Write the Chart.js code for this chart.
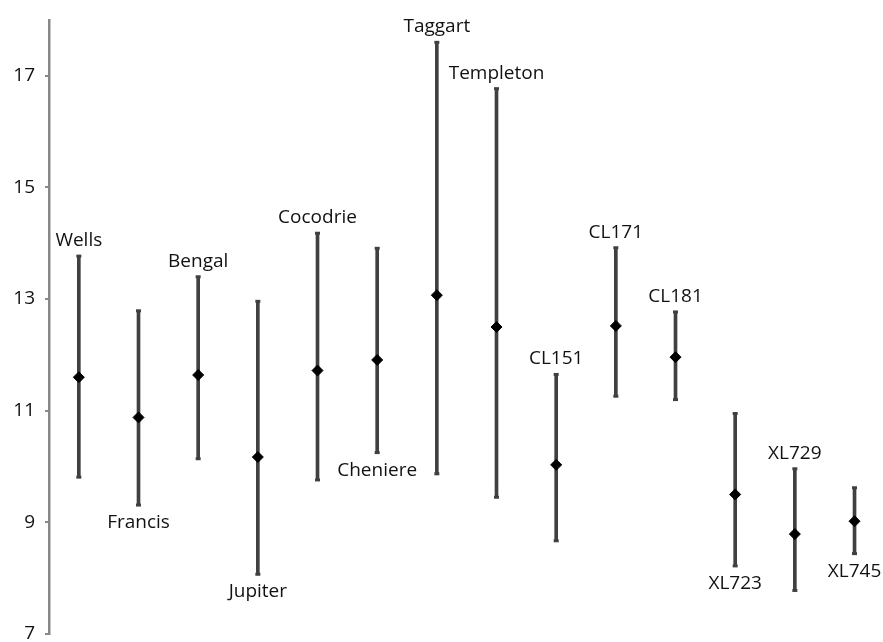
<!DOCTYPE html>
<html>
<head>
<meta charset="utf-8">
<title>Variety means with ranges</title>
<script src="https://cdn.jsdelivr.net/npm/chart.js"></script>
<style>
  html, body { margin: 0; padding: 0; background: #fff; }
  #wrap { width: 883px; height: 642px; }
</style>
</head>
<body>
<div id="wrap"><canvas id="chart" width="883" height="642"></canvas></div>
<script>
// Chart data
const categories = ['Wells', 'Francis', 'Bengal', 'Jupiter', 'Cocodrie', 'Cheniere', 'Taggart',
                    'Templeton', 'CL151', 'CL171', 'CL181', 'XL723', 'XL729', 'XL745'];
const means = [11.60, 10.88, 11.64, 10.17, 11.72, 11.91, 13.07, 12.50, 10.03, 12.52, 11.96, 9.50, 8.79, 9.02];
const highs = [13.77, 12.79, 13.40, 12.96, 14.18, 13.91, 17.60, 16.77, 11.65, 13.92, 12.77, 10.95, 9.96, 9.62];
const lows  = [9.81, 9.31, 10.14, 8.07, 9.76, 10.25, 9.87, 9.45, 8.67, 11.26, 11.20, 8.22, 7.78, 8.44];
// where each name sits: above the range or below it
const labelSide = ['top', 'bottom', 'top', 'bottom', 'top', 'bottom', 'top',
                   'top', 'top', 'top', 'top', 'bottom', 'top', 'bottom'];
const yTicks = [7, 9, 11, 13, 15, 17];

const FONT = '"Open Sans", "Noto Sans", sans-serif';
const barColor = '#404040';

// Draw the variety names next to each range
const nameLabels = {
    id: 'nameLabels',
    afterDatasetsDraw(chart) {
        const ctx = chart.ctx;
        const xs = chart.scales.x, ys = chart.scales.y;
        ctx.save();
        ctx.font = '19px ' + FONT;
        ctx.fillStyle = '#111';
        ctx.textAlign = 'center';
        ctx.textBaseline = 'alphabetic';
        categories.forEach((name, i) => {
            const x = xs.getPixelForValue(i);
            let y;
            if (labelSide[i] === 'top') {
                y = ys.getPixelForValue(highs[i]) - 10;
            } else {
                y = ys.getPixelForValue(lows[i]) + 23;
            }
            ctx.fillText(name, x, y);
        });
        ctx.restore();
    }
};

const ctx = document.getElementById('chart');
new Chart(ctx, {
    type: 'bar',
    data: {
        datasets: [
            {
                type: 'scatter',
                label: 'Mean',
                data: means.map((v, i) => ({ x: i, y: v })),
                pointStyle: 'rectRot',
                pointRadius: 5.5,
                pointBackgroundColor: '#000',
                pointBorderColor: '#000',
                pointBorderWidth: 1,
                order: 0
            },
            {
                type: 'scatter',
                label: 'High',
                data: highs.map((v, i) => ({ x: i, y: v })),
                pointStyle: 'line',
                pointRadius: 2.5,
                pointBorderColor: barColor,
                pointBorderWidth: 3,
                order: 1
            },
            {
                type: 'scatter',
                label: 'Low',
                data: lows.map((v, i) => ({ x: i, y: v })),
                pointStyle: 'line',
                pointRadius: 2.5,
                pointBorderColor: barColor,
                pointBorderWidth: 3,
                order: 1
            },
            {
                type: 'bar',
                label: 'Range',
                data: lows.map((v, i) => ({ x: i, y: [v, highs[i]] })),
                backgroundColor: barColor,
                barThickness: 3,
                order: 2
            }
        ]
    },
    options: {
        responsive: false,
        animation: false,
        layout: { padding: { top: 20, bottom: 8, left: 0, right: 0 } },
        plugins: {
            legend: { display: false },
            tooltip: { enabled: false }
        },
        scales: {
            x: {
                type: 'linear',
                min: -0.5,
                max: 13.36,
                offset: false,
                display: false
            },
            y: {
                min: 7,
                max: 18,
                afterBuildTicks: scale => { scale.ticks = yTicks.map(v => ({ value: v })); },
                afterFit: scale => {
                    scale.width = 49;
                    scale.paddingTop = 0;
                    scale.paddingBottom = 0;
                },
                border: { display: true, color: '#888', width: 2.5 },
                grid: {
                    drawOnChartArea: false,
                    drawTicks: true,
                    tickLength: 4,
                    color: '#888',
                    lineWidth: 2
                },
                ticks: {
                    padding: 10,
                    color: '#111',
                    font: { family: FONT, size: 19 }
                }
            }
        }
    },
    plugins: [nameLabels]
});
</script>
</body>
</html>
